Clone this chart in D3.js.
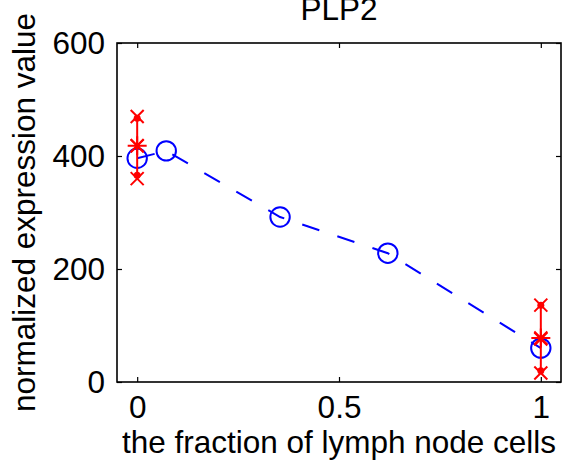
<!DOCTYPE html>
<html>
<head>
<meta charset="utf-8">
<script src="https://cdn.jsdelivr.net/npm/d3@7/dist/d3.min.js"></script>
<style>
  html, body { margin: 0; padding: 0; background: #fff; }
  svg { display: block; }
  text { font-family: "Liberation Sans", Arial, sans-serif; fill: #000; }
</style>
</head>
<body>
<svg id="chart" width="563" height="465"></svg>
<script>
// ---- data ----
const title = "PLP2";
const xLabel = "the fraction of lymph node cells";
const yLabel = "normalized expression value";
const xTicks = [0, 0.5, 1];
const xTickLabels = ["0", "0.5", "1"];
const yTicks = [0, 200, 400, 600];
const yTickLabels = ["0", "200", "400", "600"];

// model fit (blue circles, dashed line)
const fitX = [0, 0.072, 0.354, 0.621, 1];
const fitY = [396, 409, 292, 228, 60];

// observed groups (red)
const obsX = [0, 1];
const obsMean = [418, 78];
const obsLow = [366, 20];
const obsHigh = [467, 136];
const obsSamples = [[470, 418, 360], [136, 76, 16]];

// ---- layout ----
const svg = d3.select("#chart");
const L = 117, R = 561, T = 43, B = 382;
const x = d3.scaleLinear().domain([-0.05, 1.05]).range([L, R]);
const y = d3.scaleLinear().domain([0, 600]).range([B, T]);
const FS = 31.5;
const blue = "#0000ff", red = "#ff0000";

// frame
svg.append("rect").attr("x", L).attr("y", T).attr("width", R - L).attr("height", B - T)
  .attr("fill", "none").attr("stroke", "#000").attr("stroke-width", 1.6);

const tk = 5;
const xAxisB = d3.axisBottom(x).tickValues(xTicks).tickSize(-tk).tickFormat((d, i) => xTickLabels[i]).tickPadding(14);
const gxb = svg.append("g").attr("transform", `translate(0,${B})`).call(xAxisB);
const xAxisT = d3.axisTop(x).tickValues(xTicks).tickSize(-tk).tickFormat("");
const gxt = svg.append("g").attr("transform", `translate(0,${T})`).call(xAxisT);
const yAxisL = d3.axisLeft(y).tickValues(yTicks).tickSize(-tk).tickFormat((d, i) => yTickLabels[i]).tickPadding(12);
const gyl = svg.append("g").attr("transform", `translate(${L},0)`).call(yAxisL);
const yAxisR = d3.axisRight(y).tickValues(yTicks).tickSize(-tk).tickFormat("");
const gyr = svg.append("g").attr("transform", `translate(${R},0)`).call(yAxisR);
[gxb, gxt, gyl, gyr].forEach(g => {
  g.select(".domain").remove();
  g.selectAll(".tick line").attr("stroke", "#000").attr("stroke-width", 1.2);
  g.selectAll("text").attr("font-size", FS).attr("font-family", "Liberation Sans, Arial, sans-serif").attr("fill", "#000");
});
gxb.selectAll("text").attr("dy", "0.71em");

// titles
svg.append("text").attr("x", (L + R) / 2).attr("y", 20).attr("text-anchor", "middle")
  .attr("font-size", FS).text(title);
svg.append("text").attr("x", (L + R) / 2).attr("y", 453).attr("text-anchor", "middle")
  .attr("font-size", FS).text(xLabel);
svg.append("text").attr("transform", `translate(35,${(T + B) / 2}) rotate(-90)`).attr("text-anchor", "middle")
  .attr("font-size", FS).text(yLabel);

// blue circles then dashed line over them
const fitPts = fitX.map((d, i) => [d, fitY[i]]);
svg.append("g").selectAll("circle").data(fitPts).join("circle")
  .attr("cx", d => x(d[0])).attr("cy", d => y(d[1])).attr("r", 9.7)
  .attr("fill", "none").attr("stroke", blue).attr("stroke-width", 2);
svg.append("path").datum(fitPts)
  .attr("d", d3.line().x(d => x(d[0])).y(d => y(d[1])))
  .attr("fill", "none").attr("stroke", blue).attr("stroke-width", 2)
  .attr("stroke-dasharray", "18,19");

// red observations
const gr = svg.append("g").attr("stroke", red).attr("stroke-width", 2).attr("fill", "none");
obsX.forEach((xv, i) => {
  const cx = x(xv);
  gr.append("line").attr("x1", cx).attr("x2", cx).attr("y1", y(obsLow[i])).attr("y2", y(obsHigh[i]));
  [obsLow[i], obsHigh[i]].forEach(v => {
    svg.append("circle").attr("cx", cx).attr("cy", y(v)).attr("r", 3.5).attr("fill", red);
  });
  obsSamples[i].forEach(v => {
    const cy = y(v), s = 6.5;
    gr.append("path").attr("d", `M${cx - s},${cy - s}L${cx + s},${cy + s}M${cx - s},${cy + s}L${cx + s},${cy - s}`);
  });
  const cy = y(obsMean[i]), s = 6.5, p = 9.5;
  gr.append("path").attr("d", `M${cx - s},${cy - s}L${cx + s},${cy + s}M${cx - s},${cy + s}L${cx + s},${cy - s}M${cx - p},${cy}L${cx + p},${cy}M${cx},${cy - p}L${cx},${cy + p}`);
});
</script>
</body>
</html>
